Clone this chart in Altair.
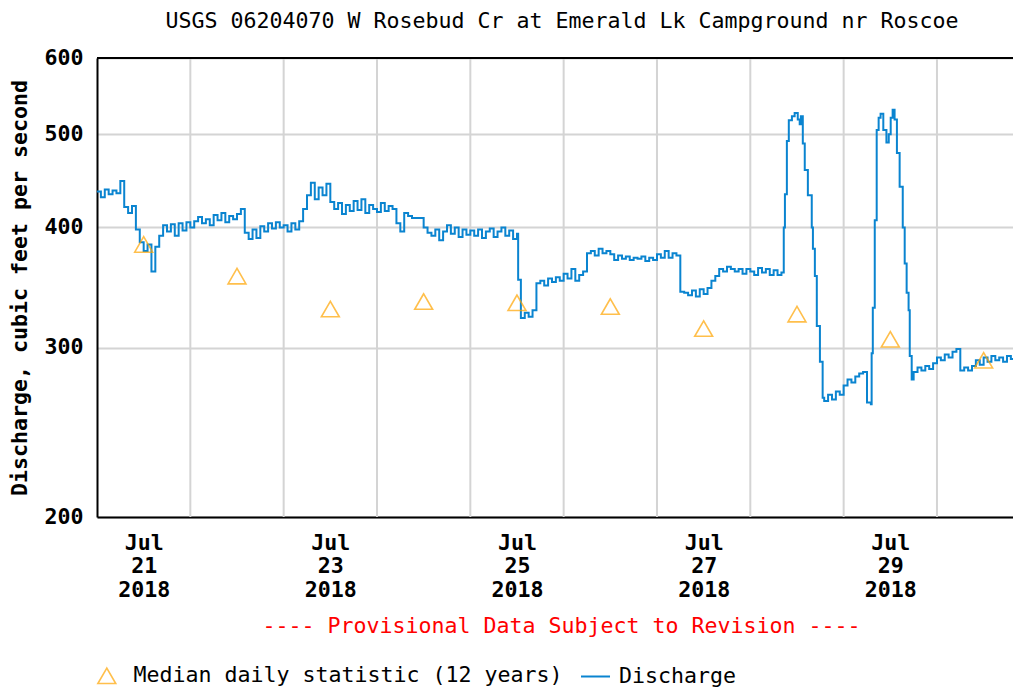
import altair as alt
import pandas as pd

# ---- discharge (hours after 2018-07-21 00:00 UTC, cfs) ----
hours = [
    0, 1, 2, 3, 4, 5, 6, 7, 8, 9, 10, 11, 12, 13, 14, 15, 16, 17, 18, 19, 20, 21, 22, 23,
    24, 25, 26, 27, 28, 29, 30, 31, 32, 33, 34, 35, 36, 37, 38, 39, 40, 41, 42, 43, 44, 45, 46, 47,
    48, 49, 50, 51, 52, 53, 54, 55, 56, 57, 58, 59, 60, 61, 62, 63, 64, 65, 66, 67, 68, 69, 70, 71,
    72, 73, 74, 75, 76, 77, 78, 79, 80, 81, 82, 83, 84, 85, 86, 87, 88, 89, 90, 91, 92, 93, 94, 95,
    96, 97, 98, 99, 100, 101, 102, 103, 104, 105, 106, 107, 108, 108.3, 109, 110, 111, 112, 113, 114,
    115, 116, 117, 118, 119, 120, 121, 122, 123, 124, 125, 126, 127, 128, 129, 130, 131, 132, 133,
    134, 135, 136, 137, 138, 139, 140, 141, 142, 143,
    144, 145, 146, 147, 148, 149, 150, 151, 152, 153, 154, 155, 156, 157, 158, 159, 160, 161, 162,
    163, 164, 165, 166, 167, 168, 169, 170, 171, 172, 173, 174, 175, 176,
    176.6, 176.9, 177.4, 177.9, 178.7, 179.4, 180.2, 180.7, 181.0, 181.5, 182.0, 182.8, 183.8,
    184.1, 184.6, 185.1, 185.9, 186.6,
    187, 188, 189, 190, 191, 192, 193, 194, 195, 196, 197, 198, 199,
    199.2, 199.5, 200, 200.5, 201, 201.5, 202.2, 203, 203.6, 204.1, 204.6, 205.1, 205.7, 206.4,
    207.2, 207.7, 208.2, 208.7, 209, 209.5,
    210, 211, 212, 213, 214, 215, 216, 217, 218, 219, 220, 221, 222, 223, 224, 225, 226, 227, 228,
    229, 230, 231, 232, 233, 234, 235, 236, 237, 238,
]
flows = [
    436, 430, 438, 433, 437, 434, 447, 420, 414, 421, 398, 386, 378, 384, 360, 382, 392, 402, 396, 403, 392, 404, 397, 405,
    400, 406, 410, 404, 408, 402, 412, 407, 414, 405, 411, 408, 413, 418, 395, 389, 398, 390, 401, 396, 404, 399, 405, 400,
    402, 396, 404, 398, 406, 418, 432, 445, 428, 440, 432, 444, 425, 418, 424, 413, 422, 416, 426, 417, 428, 414, 422, 418,
    415, 424, 416, 421, 418, 404, 396, 414, 411, 409, 409, 409, 400, 395, 392, 398, 388, 396, 402, 394, 400, 391, 398, 393,
    397, 392, 398, 390, 396, 399, 391, 396, 400, 392, 397, 389, 394, 353, 322, 326, 323, 328, 350, 352,
    348, 354, 351, 355, 352, 358, 354, 362, 352, 357, 360, 376, 378, 374, 380, 376, 378, 375, 370,
    374, 371, 373, 370, 372, 371, 373, 369, 372, 370,
    375, 372, 378, 372, 376, 374, 343, 342, 340, 344, 339, 345, 341, 346, 352, 356, 362, 360, 364,
    362, 360, 362, 358, 362, 360, 357, 363, 359, 362, 357, 361, 357, 359,
    400, 433, 492, 517, 522, 526, 518, 512, 522, 489, 459, 432, 400,
    380, 356, 316, 290, 266,
    264, 268, 265, 270, 268, 274, 278, 276, 280, 282, 283, 263, 262,
    296, 330, 407, 505, 520, 525, 505, 490, 500, 520, 530, 518, 478, 441,
    400, 367, 342, 328, 294, 278,
    283, 286, 284, 287, 285, 289, 293, 291, 295, 293, 297, 299, 284, 286, 284, 287, 291, 288, 293,
    290, 294, 291, 293, 290, 294, 292, 295, 292, 298,
]

# ---- median daily statistic (12 years), plotted at noon ----
median_days = ["2018-07-21", "2018-07-22", "2018-07-23", "2018-07-24", "2018-07-25",
               "2018-07-26", "2018-07-27", "2018-07-28", "2018-07-29", "2018-07-30"]
median_vals = [384, 356, 329, 335, 334, 331, 314, 325, 306, 291]

# ---- axis / grid positions ----
grid_days = ["2018-07-22", "2018-07-23", "2018-07-24", "2018-07-25", "2018-07-26",
             "2018-07-27", "2018-07-28", "2018-07-29", "2018-07-30"]
label_days = [21, 23, 25, 27, 29]
y_ticks = [200, 300, 400, 500, 600]

FONT = "DejaVu Sans Mono"
FS = 21.6
BLUE = "#0a84d0"
ORANGE = "#ffa500"
GRID = "#d4d4d4"

base = pd.Timestamp("2018-07-21T00:00:00Z")
df_q = pd.DataFrame({
    "t": [(base + pd.Timedelta(hours=h)).strftime("%Y-%m-%dT%H:%M:%SZ") for h in hours],
    "q": flows,
    "series": "Discharge",
})
df_m = pd.DataFrame({
    "t": [d + "T12:00:00Z" for d in median_days],
    "q": median_vals,
    "series": "Median daily statistic (12 years)",
})
df_g = pd.DataFrame({"t": [d + "T00:00:00Z" for d in grid_days]})
df_top = pd.DataFrame({"q": [600]})

x_scale = alt.Scale(type="utc", nice=False,
                    domain=[alt.DateTime(year=2018, month=7, date=21, hours=0, utc=True),
                            alt.DateTime(year=2018, month=7, date=30, hours=19, minutes=33, utc=True)])
y_scale = alt.Scale(type="log", domain=[200, 600], nice=False)

x_axis = alt.Axis(
    values=[alt.DateTime(year=2018, month=7, date=d, hours=12, utc=True) for d in label_days],
    labelExpr="[utcFormat(datum.value, '%b'), utcFormat(datum.value, '%d'), utcFormat(datum.value, '%Y')]",
    grid=False, ticks=False, domain=True, domainColor="black", domainWidth=2,
    labelFont=FONT, labelFontSize=FS, labelFontWeight="bold", labelColor="black",
    labelLineHeight=23.5, labelPadding=15, labelAngle=0,
    title="---- Provisional Data Subject to Revision ----",
    titleFont=FONT, titleFontSize=FS, titleFontWeight="normal", titleColor="#ff0000",
    titlePadding=15, titleX=464, titleAlign="center",
)
y_axis = alt.Axis(
    values=y_ticks, grid=True, gridColor=GRID, gridWidth=2,
    ticks=False, domain=True, domainColor="black", domainWidth=2,
    labelFont=FONT, labelFontSize=FS, labelFontWeight="bold", labelColor="black",
    labelPadding=14,
    title="Discharge, cubic feet per second",
    titleFont=FONT, titleFontSize=FS, titleFontWeight="bold", titleColor="black",
    titlePadding=12,
)

grid = alt.Chart(df_g).mark_rule(color=GRID, strokeWidth=2).encode(
    x=alt.X("t:T", scale=x_scale, axis=x_axis)
)

top = alt.Chart(df_top).mark_rule(color="black", strokeWidth=2).encode(
    y=alt.Y("q:Q", scale=y_scale, axis=y_axis)
)

line = alt.Chart(df_q).mark_line(interpolate="step-after", strokeWidth=2, clip=True).encode(
    x=alt.X("t:T", scale=x_scale, axis=x_axis),
    y=alt.Y("q:Q", scale=y_scale, axis=y_axis),
    stroke=alt.Stroke("series:N",
                      scale=alt.Scale(domain=["Discharge"], range=[BLUE]),
                      legend=alt.Legend(orient="none", legendX=483, legendY=603, title=None,
                                        symbolType="stroke", symbolSize=841, symbolStrokeWidth=2,
                                        labelFont=FONT, labelFontSize=FS, labelColor="black",
                                        labelOffset=8, labelLimit=600)),
)

pts = alt.Chart(df_m).mark_point(shape="triangle-up", filled=False, color=ORANGE,
                                 size=320, strokeWidth=1.6).encode(
    x=alt.X("t:T", scale=x_scale, axis=x_axis),
    y=alt.Y("q:Q", scale=y_scale, axis=y_axis),
    shape=alt.Shape("series:N",
                    scale=alt.Scale(domain=["Median daily statistic (12 years)"], range=["triangle-up"]),
                    legend=alt.Legend(orient="none", legendX=-1, legendY=607, title=None,
                                      symbolSize=320, symbolStrokeColor=ORANGE, symbolFillColor="white",
                                      symbolStrokeWidth=1.6,
                                      labelFont=FONT, labelFontSize=FS, labelColor="black",
                                      labelOffset=16, labelLimit=600)),
)

chart = alt.layer(grid, top, line, pts).properties(
    width=916,
    height=459,
    title=alt.Title("USGS 06204070 W Rosebud Cr at Emerald Lk Campground nr Roscoe",
                    font=FONT, fontSize=FS, fontWeight="normal", color="black",
                    anchor="middle", offset=14, dx=7),
    autosize=alt.AutoSizeParams(type="none"),
    padding={"left": 89, "top": 50, "right": 0, "bottom": 170},
    background="white",
).configure_view(stroke=None)

chart.save("out.html", embed_options={"renderer": "svg", "actions": False})
